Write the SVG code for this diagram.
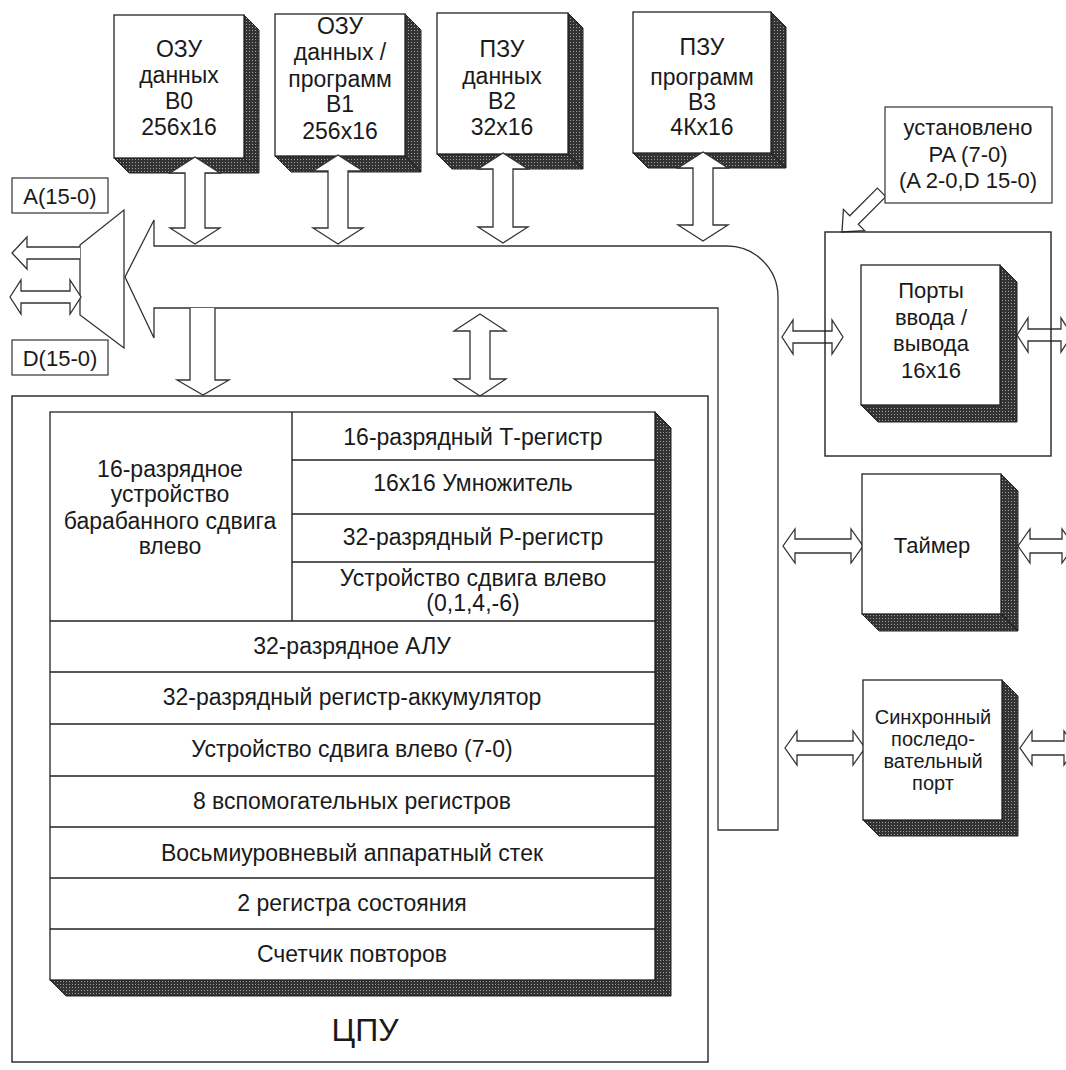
<svg xmlns="http://www.w3.org/2000/svg" width="1066" height="1070" viewBox="0 0 1066 1070">
<style>
text{font-family:"Liberation Sans",Arial,sans-serif;fill:#1a1a1a;text-anchor:middle}
.t22{font-size:22px}
.t23{font-size:23px}
.t20{font-size:20px}
.t32{font-size:32px}
.face{fill:#fff;stroke:#222;stroke-width:1.3}
.shade{fill:url(#stip);stroke:#222;stroke-width:1}
.ln{fill:none;stroke:#222;stroke-width:1.4}
.arr{fill:#fff;stroke:#333;stroke-width:1.3;stroke-linejoin:miter}
.box{fill:#fff;stroke:#333;stroke-width:1.2}
</style>
<defs>
<pattern id="stip" width="3" height="3" patternUnits="userSpaceOnUse">
<rect width="3" height="3" fill="#333"/>
<rect width="1" height="1" fill="#a0a0a0"/>
</pattern>
</defs>
<rect width="1066" height="1070" fill="#fff"/>

<!-- CPU outer -->
<g id="cpu">
<rect x="12" y="396" width="696" height="666" class="ln"/>
<text class="t32" x="365" y="1041">ЦПУ</text>
</g>

<!-- Bus and connectors -->
<g id="connectors">
<path id="bus" class="arr" d="M154,220 L154,246 L727,246 A51,51 0 0 1 778,297 L778,830 L718,830 L718,308 L154,308 L154,338 L125,277 Z"/>
<polygon id="mux" class="arr" points="80,245 124,210 124,348 80,315"/>
<polyline class="arr" points="80,247 27,247 27,237 12,253 27,269 27,259 80,259"/>
<polygon class="arr" points="10,297 21,280 21,291 70,291 70,280 81,297 70,314 70,303 21,303 21,314"/>
<polyline class="arr" points="190,308 190,380 177,380 203,395 229,380 215,380 215,308"/>
<polygon class="arr" points="480,314 506,331 490,331 490,379 506,379 480,396 454,379 470,379 470,331 454,331"/>
<polygon class="arr" points="782,337 793,320 793,331 832,331 832,320 843,337 832,354 832,343 793,343 793,354"/>
<polygon class="arr" points="1017,335 1028,318 1028,329 1061,329 1061,318 1072,335 1061,352 1061,341 1028,341 1028,352"/>
<polygon class="arr" points="783,546 795,529 795,539 851,539 851,529 863,546 851,563 851,553 795,553 795,563"/>
<polygon class="arr" points="1018,546 1030,529 1030,539 1062,539 1062,529 1074,546 1062,563 1062,553 1030,553 1030,563"/>
<polygon class="arr" points="785,748 797,731 797,741 853,741 853,731 865,748 853,765 853,755 797,755 797,765"/>
<polygon class="arr" points="1020,748 1032,731 1032,741 1064,741 1064,731 1076,748 1064,765 1064,755 1032,755 1032,765"/>
<polygon class="arr" transform="translate(842,232) rotate(135)" points="-56,-6 -17,-6 -17,-15 0,0 -17,15 -17,6 -56,6"/>
</g>

<!-- Labels -->
<g id="labelA"><rect x="12" y="178" width="96" height="35" class="box"/><text class="t22" x="60" y="204">A(15-0)</text></g>
<g id="labelD"><rect x="12" y="340" width="96" height="35" class="box"/><text class="t22" x="60" y="366">D(15-0)</text></g>
<g id="labelPA"><rect x="885" y="107" width="167" height="96" class="box"/>
<text class="t22" x="968" y="135">установлено</text>
<text class="t22" x="968" y="162">PA (7-0)</text>
<text class="t22" x="968" y="188">(A 2-0,D 15-0)</text></g>

<!-- Memory blocks -->
<g id="b0">
<polygon class="shade" points="244,15 259,30 259,173 244,158"/>
<polygon class="shade" points="114,158 244,158 259,173 129,173"/>
<rect x="114" y="15" width="130" height="143" class="face"/>
<text class="t23" x="179" y="57">ОЗУ</text>
<text class="t23" x="179" y="83">данных</text>
<text class="t23" x="179" y="109">В0</text>
<text class="t23" x="179" y="135">256x16</text>
</g>
<g id="b1">
<polygon class="shade" points="405,14 421,30 421,172 405,156"/>
<polygon class="shade" points="275,156 405,156 421,172 291,172"/>
<rect x="275" y="14" width="130" height="142" class="face"/>
<text class="t23" x="340" y="34">ОЗУ</text>
<text class="t23" x="340" y="60">данных /</text>
<text class="t23" x="340" y="87">программ</text>
<text class="t23" x="340" y="112">В1</text>
<text class="t23" x="340" y="139">256x16</text>
</g>
<g id="b2">
<polygon class="shade" points="568,13 583,28 583,169 568,154"/>
<polygon class="shade" points="437,154 568,154 583,169 452,169"/>
<rect x="437" y="13" width="131" height="141" class="face"/>
<text class="t23" x="502" y="57">ПЗУ</text>
<text class="t23" x="502" y="84">данных</text>
<text class="t23" x="502" y="109">В2</text>
<text class="t23" x="502" y="135">32x16</text>
</g>
<g id="b3">
<polygon class="shade" points="771,12 786,27 786,168 771,153"/>
<polygon class="shade" points="633,153 771,153 786,168 648,168"/>
<rect x="633" y="12" width="138" height="141" class="face"/>
<text class="t23" x="702" y="55">ПЗУ</text>
<text class="t23" x="702" y="85">программ</text>
<text class="t23" x="702" y="110">В3</text>
<text class="t23" x="702" y="135">4Кx16</text>
</g>

<!-- memory arrows -->
<g id="memarrows">
<polygon class="arr" points="195,157 220,173 205,173 205,228 220,228 195,244 170,228 185,228 185,173 170,173"/>
<polygon class="arr" points="338,155 363,171 348,171 348,228 363,228 338,244 313,228 328,228 328,171 313,171"/>
<polygon class="arr" points="503,153 528,169 513,169 513,227 528,227 503,243 478,227 493,227 493,169 478,169"/>
<polygon class="arr" points="703,152 728,168 713,168 713,225 728,225 703,241 678,225 693,225 693,168 678,168"/>
</g>

<!-- Ports -->
<g id="ports">
<rect x="825" y="232" width="226" height="224" class="ln"/>
<polygon class="shade" points="1000,265 1017,282 1017,422 1000,405"/>
<polygon class="shade" points="861,405 1000,405 1017,422 878,422"/>
<rect x="861" y="265" width="139" height="140" class="face"/>
<text class="t22" x="931" y="298">Порты</text>
<text class="t22" x="931" y="325">ввода /</text>
<text class="t22" x="931" y="351">вывода</text>
<text class="t22" x="931" y="378">16x16</text>
</g>

<g id="timer">
<polygon class="shade" points="1001,474 1018,491 1018,631 1001,614"/>
<polygon class="shade" points="862,614 1001,614 1018,631 879,631"/>
<rect x="862" y="474" width="139" height="140" class="face"/>
<text class="t22" x="932" y="553">Таймер</text>
</g>

<g id="sync">
<polygon class="shade" points="1002,680 1018,696 1018,836 1002,820"/>
<polygon class="shade" points="863,820 1002,820 1018,836 879,836"/>
<rect x="863" y="680" width="139" height="140" class="face"/>
<text class="t20" x="933" y="724">Синхронный</text>
<text class="t20" x="933" y="746">последо-</text>
<text class="t20" x="933" y="768">вательный</text>
<text class="t20" x="933" y="790">порт</text>
</g>

<!-- CPU inner block -->
<g id="cpu-core">
<polygon class="shade" points="655,412 671,428 671,996 655,980"/>
<polygon class="shade" points="50,980 655,980 671,996 66,996"/>
<rect x="50" y="412" width="605" height="568" class="face"/>
<line class="ln" x1="292" y1="412" x2="292" y2="621"/>
<line class="ln" x1="292" y1="460" x2="655" y2="460"/>
<line class="ln" x1="292" y1="514" x2="655" y2="514"/>
<line class="ln" x1="292" y1="562" x2="655" y2="562"/>
<line class="ln" x1="50" y1="621" x2="655" y2="621"/>
<line class="ln" x1="50" y1="672" x2="655" y2="672"/>
<line class="ln" x1="50" y1="724" x2="655" y2="724"/>
<line class="ln" x1="50" y1="776" x2="655" y2="776"/>
<line class="ln" x1="50" y1="827" x2="655" y2="827"/>
<line class="ln" x1="50" y1="878" x2="655" y2="878"/>
<line class="ln" x1="50" y1="929" x2="655" y2="929"/>
<text class="t23" x="170" y="477">16-разрядное</text>
<text class="t23" x="170" y="502">устройство</text>
<text class="t23" x="170" y="529">барабанного сдвига</text>
<text class="t23" x="170" y="554">влево</text>
<text class="t23" x="473" y="445">16-разрядный Т-регистр</text>
<text class="t23" x="473" y="491">16x16 Умножитель</text>
<text class="t23" x="473" y="545">32-разрядный Р-регистр</text>
<text class="t23" x="473" y="586">Устройство сдвига влево</text>
<text class="t23" x="473" y="611">(0,1,4,-6)</text>
<text class="t23" x="352" y="654">32-разрядное АЛУ</text>
<text class="t23" x="352" y="705">32-разрядный регистр-аккумулятор</text>
<text class="t23" x="352" y="757">Устройство сдвига влево (7-0)</text>
<text class="t23" x="352" y="809">8 вспомогательных регистров</text>
<text class="t23" x="352" y="861">Восьмиуровневый аппаратный стек</text>
<text class="t23" x="352" y="911">2 регистра состояния</text>
<text class="t23" x="352" y="962">Счетчик повторов</text>
</g>
</svg>
